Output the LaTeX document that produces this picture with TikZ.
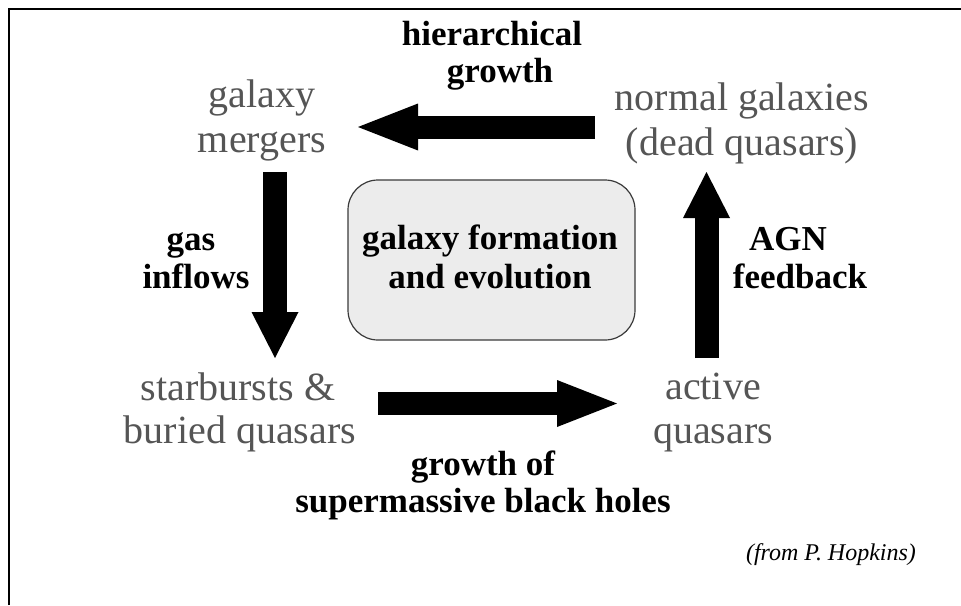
\documentclass[tikz,border=0pt]{standalone}
\usepackage{fontspec}
\setmainfont{Liberation Serif}
\usetikzlibrary{arrows.meta}
\definecolor{txtgray}{HTML}{555555}
\definecolor{boxfill}{HTML}{ECECEC}
\definecolor{boxline}{HTML}{3A3A3A}
\begin{document}
\begin{tikzpicture}[x=1pt,y=-1pt,
  stage/.style={text=txtgray, font=\fontsize{40}{46}\selectfont, anchor=base, inner sep=0pt},
  lab/.style={font=\fontsize{35}{38}\selectfont\bfseries, anchor=base, inner sep=0pt},
  hfat/.style={line width=23pt, -{Triangle[length=60pt,width=47pt,line width=0pt]}},
  vfat/.style={line width=24pt, -{Triangle[length=46pt,width=47pt,line width=0pt]}},
  framestyle/.style={line width=2.2pt, black}
]
\useasboundingbox (0,0) rectangle (961,605);
% frame
\coordinate (fb) at (8.7,605);
\coordinate (fc) at (8.7,8.7);
\coordinate (fr) at (961,8.7);
\draw[framestyle] (fb) -- (fc) -- (fr);

% central box
\node[draw=boxline, fill=boxfill, line width=1.2pt, rounded corners=30pt,
      minimum width=287pt, minimum height=160pt, inner sep=0pt] (core) at (491.5,260) {};
\node[lab] (coreA) at (490,249) {galaxy formation};
\node[lab] (coreB) at (490,288) {and evolution};

% stages
\node[stage] (mergA) at (262,107) {galaxy};
\node[stage] (mergB) at (262,152) {mergers};
\node[stage] (normA) at (742,110) {normal galaxies};
\node[stage] (normB) at (742,155) {(dead quasars)};
\node[stage] (starA) at (238,400) {starbursts \&};
\node[stage] (starB) at (240,443) {buried quasars};
\node[stage] (actA) at (713,399) {active};
\node[stage] (actB) at (713,443) {quasars};

% arrow labels
\node[lab] (hierA) at (492,45) {hierarchical};
\node[lab] (hierB) at (500,82) {growth};
\node[lab] (gasA) at (191,250) {gas};
\node[lab] (gasB) at (196,288) {inflows};
\node[lab] (agnA) at (788,250) {AGN};
\node[lab] (agnB) at (800,288) {feedback};
\node[lab] (bhA) at (483,475) {growth of};
\node[lab] (bhB) at (483,512) {supermassive black holes};

% credit
\node[anchor=base, inner sep=0pt, font=\fontsize{24}{28}\selectfont\itshape] (credit) at (831,560) {(from P. Hopkins)};

% arrows
\coordinate (h1) at (595,127);
\coordinate (h2) at (358,127);
\coordinate (g1) at (275,172);
\coordinate (g2) at (275,358);
\coordinate (s1) at (378,403.5);
\coordinate (s2) at (617,403.5);
\coordinate (f1) at (706.5,358);
\coordinate (f2) at (706.5,172);
\draw[hfat] (h1) -- (h2);
\draw[vfat] (g1) -- (g2);
\draw[hfat] (s1) -- (s2);
\draw[vfat] (f1) -- (f2);
\end{tikzpicture}
\end{document}
